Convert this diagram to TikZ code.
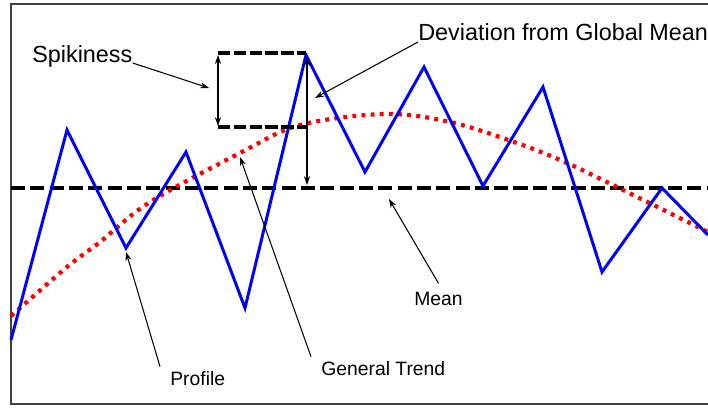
\documentclass[tikz,border=0pt]{standalone}
\usepackage{fontspec}
\setmainfont{Liberation Sans}
\usetikzlibrary{arrows.meta,positioning}

\begin{document}
\begin{tikzpicture}[x=0.02cm, y=-0.02cm,
    profile/.style={draw=blue, line width=1.7pt, line join=miter},
    trend/.style={draw=red, line width=2.4pt, dash pattern=on 2.2pt off 3pt},
    meanline/.style={draw=black, line width=2.4pt, dash pattern=on 8pt off 3pt},
    boxline/.style={draw=black, line width=1.9pt, dash pattern=on 7pt off 2pt},
    pointer/.style={->, line width=0.6pt},
    biglabel/.style={font=\fontsize{13.3}{15}\selectfont, inner sep=0pt, anchor=base west},
    smalllabel/.style={font=\fontsize{11}{13}\selectfont, inner sep=0pt, anchor=base west},
    >={Stealth[length=5pt,width=3.5pt]}]
  \useasboundingbox (0,0) rectangle (708,409);
  \draw[line width=0.9pt, black!75] (708,4) -- (11,4) -- (11,404) -- (708,404);

  % global mean and general trend
  \draw[meanline] (11,188) -- (708,188);
  \draw[trend] plot[smooth, tension=0.55] coordinates {(11,316) (67,267) (100,242)
    (150,202) (240,153) (300,125) (385,114) (450,122) (517,143) (567,163) (623,190) (708,232)};

  % profile
  \draw[profile] plot coordinates {(11,340) (67,130) (126,248) (186,152) (245,308) (306,55)
    (365,172) (424,67) (483,186) (543,87) (602,272) (662,188) (708,235)};

  % spikiness box
  \draw[boxline] (218,53) -- (306,53);
  \draw[boxline] (218,127) -- (307,127);
  \draw[<->, line width=0.6pt] (218,55) -- (218,126);
  \draw[<->, line width=0.6pt] (307,57) -- (307,185);

  \coordinate (spiketip) at (209,88);
  \coordinate (devtip) at (315,98);
  \coordinate (meantip) at (389,199);
  \coordinate (proftip) at (126,252);
  \coordinate (trendtip) at (240,157);

  \node[biglabel] (spiky) at (32,63) {Spikiness};
  \node[biglabel] (devlabel) at (418,40) {Deviation from Global Mean};
  \node[smalllabel] (meanlabel) at (414,305) {Mean};
  \node[smalllabel] (proflabel) at (170,385) {Profile};
  \node[smalllabel] (trendlabel) at (321,376) {General Trend};

  \draw[pointer] (spiky.base east) -- (spiketip);
  \draw[pointer] ([shift={(0,2)}]devlabel.base west) -- (devtip);
  \draw[pointer] ([shift={(0,-8)}]meanlabel.north) -- (meantip);
  \draw[pointer] ([shift={(-10,-4)}]proflabel.north west) -- (proftip);
  \draw[pointer] ([shift={(-10,-5)}]trendlabel.north west) -- (trendtip);
\end{tikzpicture}
\end{document}
